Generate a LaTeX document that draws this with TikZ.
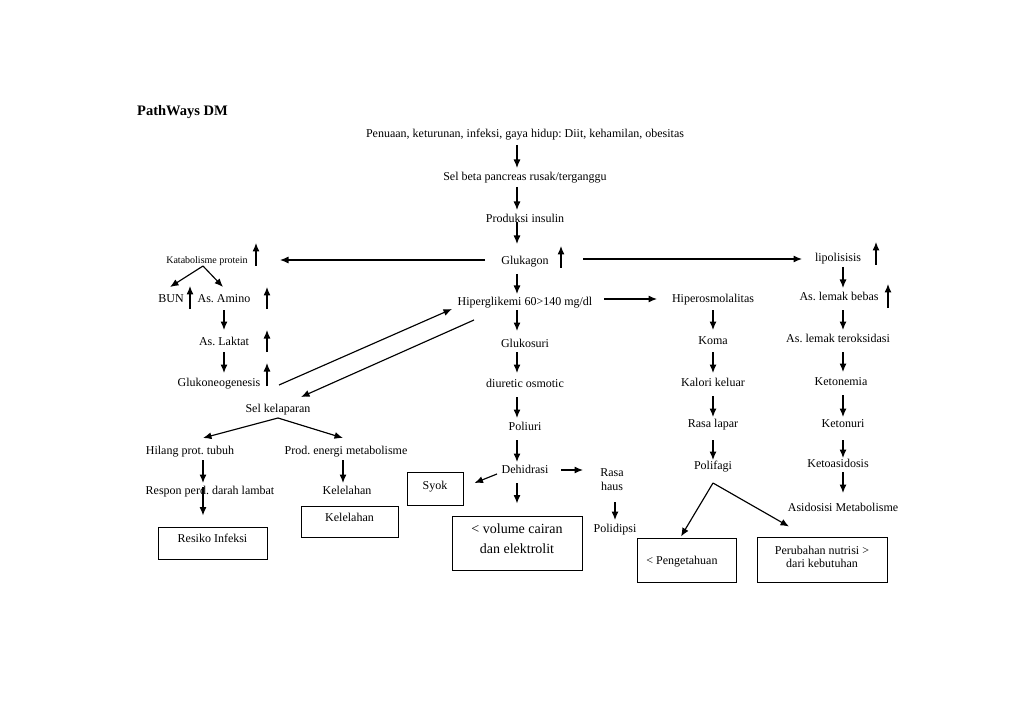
\documentclass[tikz,border=0pt]{standalone}
\usepackage{fontspec}
\setmainfont{Liberation Serif}
\frenchspacing
\usetikzlibrary{arrows.meta,calc}
\begin{document}
\begin{tikzpicture}[x=1pt,y=-1pt,
  txt/.style={inner sep=0pt,font=\fontsize{12}{14}\selectfont,text height=12pt,text depth=2.5pt},
  small/.style={inner sep=0pt,font=\fontsize{10}{12}\selectfont,text height=10.5pt,text depth=2pt},
  box/.style={draw,line width=1pt,inner sep=0pt,font=\fontsize{12}{14}\selectfont,align=center},
  arr/.style={line width=1.15pt,-{Latex[length=8.5pt,width=7pt]}}]
\fill[white] (0,0) rectangle (1017,719);
\useasboundingbox (0,0) rectangle (1017,719);

% title
\node[anchor=west,inner sep=0pt,font=\fontsize{14.5}{16}\selectfont\bfseries] (title) at (137,112.5) {PathWays DM};

% centre column
\node[txt] (cause) at (525,133) {Penuaan, keturunan, infeksi, gaya hidup: Diit, kehamilan, obesitas};
\node[txt] (beta) at (525,176) {Sel beta pancreas rusak/terganggu};
\node[txt] (insulin) at (525,218) {Produksi insulin};
\node[txt] (glukagon) at (525,260) {Glukagon};
\node[txt] (hiper) at (525,301) {Hiperglikemi 60>140 mg/dl};
\node[txt] (glukosuri) at (525,343) {Glukosuri};
\node[txt] (diuretic) at (525,383) {diuretic osmotic};
\node[txt] (poliuri) at (525,426) {Poliuri};
\node[txt] (dehidrasi) at (525,469) {Dehidrasi};
\node[box,minimum width=56pt,minimum height=33pt,text height=8pt,text depth=7pt] (syok) at (435,488.5) {Syok};
\node[draw,line width=1pt,inner sep=0pt,minimum width=130pt,minimum height=54pt,font=\fontsize{14}{20}\selectfont] (volume) at (517,543) {\raisebox{-0.5pt}[0pt][0pt]{\begin{tabular}{@{}c@{}}< volume cairan\\dan elektrolit\end{tabular}}};
\node[inner sep=0pt,align=center,font=\fontsize{12}{14}\selectfont] (haus) at (612,480) {Rasa\\haus};
\node[txt] (polidipsi) at (615,528) {Polidipsi};

% left side
\node[small] (kat) at (207,259) {Katabolisme protein};
\node[txt] (bun) at (171,298) {BUN};
\node[txt] (amino) at (224,298) {As. Amino};
\node[txt] (laktat) at (224,341) {As. Laktat};
\node[txt] (glukoneo) at (219,382) {Glukoneogenesis};
\node[txt] (selkel) at (278,408) {Sel kelaparan};
\node[txt] (hilang) at (190,450) {Hilang prot. tubuh};
\node[txt] (prod) at (346,450) {Prod. energi metabolisme};
\node[txt] (respon) at (210,490) {Respon perd. darah lambat};
\node[txt] (kel) at (347,490) {Kelelahan};
\node[box,minimum width=109pt,minimum height=32pt,text height=8pt,text depth=10pt] (resiko) at (212.5,543) {Resiko Infeksi};
\node[box,minimum width=97pt,minimum height=31pt,text height=8pt,text depth=9pt] (kelbox) at (349.5,521.5) {Kelelahan};

% middle-right column
\node[txt] (osm) at (713,298) {Hiperosmolalitas};
\node[txt] (koma) at (713,340) {Koma};
\node[txt] (kalori) at (713,382) {Kalori keluar};
\node[txt] (lapar) at (713,423) {Rasa lapar};
\node[txt] (polifagi) at (713,465) {Polifagi};
\node[box,minimum width=99pt,minimum height=44pt,text height=8pt,text depth=0pt] (peng) at (686.5,560) {< Pengetahuan\hspace{9pt}};
\node[box,minimum width=130pt,minimum height=45pt,font=\fontsize{12}{13}\selectfont] (perub) at (822,559.5) {\raisebox{-2pt}[0pt][0pt]{\begin{tabular}{@{}c@{}}Perubahan nutrisi >\\dari kebutuhan\end{tabular}}};

% right column
\node[txt] (lipo) at (838,257) {lipolisisis};
\node[txt] (bebas) at (839,296) {As. lemak bebas};
\node[txt] (teroks) at (838,338) {As. lemak teroksidasi};
\node[txt] (ketonemia) at (841,381) {Ketonemia};
\node[txt] (ketonuri) at (843,423) {Ketonuri};
\node[txt] (ketoas) at (838,463) {Ketoasidosis};
\node[txt] (asid) at (843,507) {Asidosisi Metabolisme};

% centre arrows
\draw[arr] ($(cause)+(-8,12)$) -- ($(beta)+(-8,-8)$);
\draw[arr] ($(beta)+(-8,11)$) -- ($(insulin)+(-8,-8)$);
\draw[arr] ($(insulin)+(-8,4)$) -- ($(glukagon)+(-8,-16)$);
\draw[arr] ($(glukagon)+(-8,14)$) -- ($(hiper)+(-8,-7)$);
\draw[arr] ($(hiper)+(-8,9)$) -- ($(glukosuri)+(-8,-12)$);
\draw[arr] ($(glukosuri)+(-8,9)$) -- ($(diuretic)+(-8,-10)$);
\draw[arr] ($(diuretic)+(-8,14)$) -- ($(poliuri)+(-8,-8)$);
\draw[arr] ($(poliuri)+(-8,14)$) -- ($(dehidrasi)+(-8,-7)$);
\draw[arr] ($(dehidrasi)+(-8,14)$) -- ($(volume.north)+(0,-12)$);
\draw[arr] ($(dehidrasi)+(-28,5)$) -- ($(syok.east)+(11,-5.5)$);
\draw[arr] ($(dehidrasi)+(36,1)$) -- ($(haus)+(-29,-10)$);
\draw[arr] ($(haus)+(3,22)$) -- ($(polidipsi)+(0,-8)$);

% horizontal from glukagon
\draw[arr] ($(glukagon)+(-40,0)$) -- ($(kat)+(73,1)$);
\draw[arr] ($(glukagon)+(58,-1)$) -- ($(lipo)+(-36,2)$);
\draw[arr] ($(hiper)+(79,-2)$) -- ($(osm)+(-56,1)$);

% left arrows
\draw[arr] ($(kat)+(-4,7)$) -- ($(bun)+(-1,-11)$);
\draw[arr] ($(kat)+(-4,7)$) -- ($(amino)+(-1,-11)$);
\draw[arr] ($(amino)+(0,12)$) -- ($(laktat)+(0,-11)$);
\draw[arr] ($(laktat)+(0,11)$) -- ($(glukoneo)+(5,-9)$);
\draw[arr] ($(glukoneo)+(60,3)$) -- ($(hiper)+(-73,8)$);
\draw[arr] ($(hiper)+(-51,19)$) -- ($(selkel)+(23,-11)$);
\draw[arr] ($(selkel)+(0,10)$) -- ($(hilang)+(13,-12)$);
\draw[arr] ($(selkel)+(0,10)$) -- ($(prod)+(-3,-12)$);
\draw[arr] ($(hilang)+(13,10)$) -- ($(respon)+(-7,-7)$);
\draw[arr] ($(respon)+(-7,-3)$) -- ($(resiko.north)+(-9.5,-11)$);
\draw[arr] ($(prod)+(-3,10)$) -- ($(kel)+(-4,-7)$);

% middle-right arrows
\draw[arr] ($(osm)+(0,12)$) -- ($(koma)+(0,-10)$);
\draw[arr] ($(koma)+(0,12)$) -- ($(kalori)+(0,-9)$);
\draw[arr] ($(kalori)+(0,14)$) -- ($(lapar)+(0,-6)$);
\draw[arr] ($(lapar)+(0,17)$) -- ($(polifagi)+(0,-5)$);
\draw[arr] ($(polifagi)+(0,18)$) -- ($(peng.north)+(-5.5,-1)$);
\draw[arr] ($(polifagi)+(0,18)$) -- ($(perub.north)+(-33,-10)$);

% right arrows
\draw[arr] ($(lipo)+(5,10)$) -- ($(bebas)+(4,-8)$);
\draw[arr] ($(bebas)+(4,14)$) -- ($(teroks)+(5,-8)$);
\draw[arr] ($(teroks)+(5,14)$) -- ($(ketonemia)+(2,-9)$);
\draw[arr] ($(ketonemia)+(2,14)$) -- ($(ketonuri)+(0,-6)$);
\draw[arr] ($(ketonuri)+(0,17)$) -- ($(ketoas)+(5,-5)$);
\draw[arr] ($(ketoas)+(5,9)$) -- ($(asid)+(0,-14)$);

% increase markers
\draw[arr] ($(glukagon)+(36,8)$) -- ++(0,-22);
\draw[arr] ($(kat)+(49,7)$) -- ++(0,-23);
\draw[arr] ($(lipo)+(38,8)$) -- ++(0,-23);
\draw[arr] ($(bun)+(19,11)$) -- ++(0,-23);
\draw[arr] ($(amino)+(43,11)$) -- ++(0,-22);
\draw[arr] ($(laktat)+(43,11)$) -- ++(0,-22);
\draw[arr] ($(glukoneo)+(48,4)$) -- ++(0,-23);
\draw[arr] ($(bebas)+(49,12)$) -- ++(0,-24);
\end{tikzpicture}
\end{document}
